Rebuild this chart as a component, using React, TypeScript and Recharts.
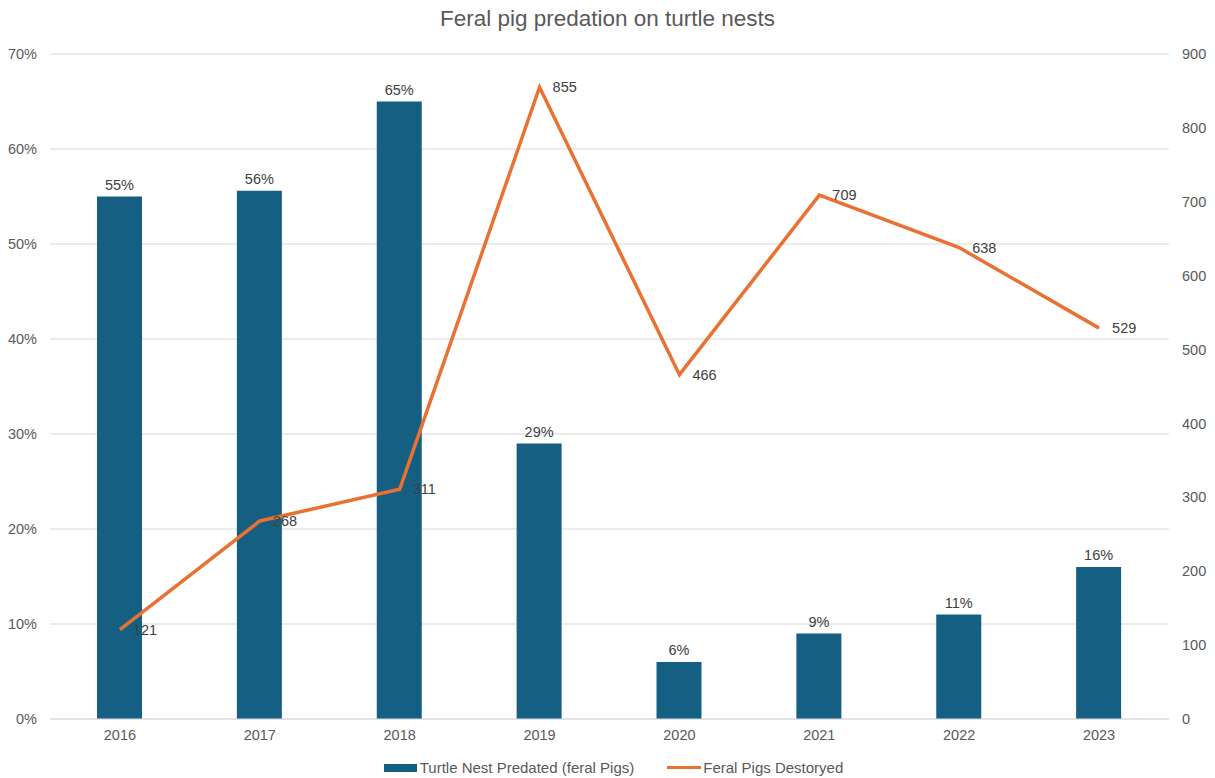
import React from "react";
import {
  Bar,
  CartesianGrid,
  ComposedChart,
  LabelList,
  Line,
  XAxis,
  YAxis,
} from "recharts";

const YEARS = ["2016", "2017", "2018", "2019", "2020", "2021", "2022", "2023"];
const NEST_PREDATED = [0.55, 0.556, 0.65, 0.29, 0.06, 0.09, 0.11, 0.16];
const PIGS_DESTROYED = [121, 268, 311, 855, 466, 709, 638, 529];
const LEFT_TICKS = [0, 0.1, 0.2, 0.3, 0.4, 0.5, 0.6, 0.7];
const RIGHT_TICKS = [0, 100, 200, 300, 400, 500, 600, 700, 800, 900];

const BAR_COLOR = "#156082";
const LINE_COLOR = "#E97132";
const FONT = "'Liberation Sans', Arial, sans-serif";
const TEXT = "#595959";
const FS = 14.5;

const data = YEARS.map((year, i) => ({
  year,
  nest: NEST_PREDATED[i],
  pigs: PIGS_DESTROYED[i],
}));

const pct = (v: number) => `${Math.round(v * 100)}%`;

export default function App() {
  return (
    <div
      style={{
        position: "absolute",
        left: 0,
        top: 0,
        width: 1215,
        height: 778,
        background: "#fff",
        fontFamily: FONT,
      }}
    >
      <div
        style={{
          position: "absolute",
          top: 6,
          width: "100%",
          textAlign: "center",
          fontSize: 22.5,
          color: TEXT,
        }}
      >
        Feral pig predation on turtle nests
      </div>
      <ComposedChart
        width={1215}
        height={778}
        data={data}
        margin={{ top: 54, right: 0, bottom: 29, left: 0 }}
        style={{ fontFamily: FONT }}
      >
        <CartesianGrid yAxisId="left" vertical={false} stroke="#d9d9d9" />
        <XAxis
          dataKey="year"
          height={30}
          tickLine={false}
          axisLine={{ stroke: "#d9d9d9" }}
          tick={{ fill: TEXT, fontSize: FS }}
          tickSize={6}
          tickMargin={5}
        />
        <YAxis
          yAxisId="left"
          width={50}
          domain={[0, 0.7]}
          ticks={LEFT_TICKS}
          tickFormatter={pct}
          axisLine={false}
          tickLine={false}
          tickSize={6}
          tickMargin={7}
          tick={{ fill: TEXT, fontSize: FS }}
        />
        <YAxis
          yAxisId="right"
          orientation="right"
          width={46}
          domain={[0, 900]}
          ticks={RIGHT_TICKS}
          axisLine={false}
          tickLine={false}
          tickSize={6}
          tickMargin={7}
          tick={{ fill: TEXT, fontSize: FS, textAnchor: "start" }}
        />
        <Bar
          yAxisId="left"
          dataKey="nest"
          fill={BAR_COLOR}
          barSize={45}
          isAnimationActive={false}
        >
          <LabelList
            dataKey="nest"
            position="top"
            offset={7}
            formatter={(v: any) => pct(Number(v))}
            style={{ fill: "#404040", fontSize: FS }}
          />
        </Bar>
        <Line
          yAxisId="right"
          dataKey="pigs"
          type="linear"
          stroke={LINE_COLOR}
          strokeWidth={3.5}
          dot={false}
          activeDot={false}
          isAnimationActive={false}
        >
          <LabelList
            dataKey="pigs"
            position="right"
            offset={13}
            style={{ fill: "#404040", fontSize: FS }}
          />
        </Line>
      </ComposedChart>
      <div
        style={{
          position: "absolute",
          top: 759,
          left: 0,
          width: "100%",
          display: "flex",
          justifyContent: "center",
          alignItems: "center",
          fontSize: 15,
          color: TEXT,
        }}
      >
        <span style={{ display: "flex", alignItems: "center", marginLeft: 12 }}>
          <span
            style={{ width: 33, height: 8, background: BAR_COLOR, marginRight: 3 }}
          />
          Turtle Nest Predated (feral Pigs)
        </span>
        <span style={{ display: "flex", alignItems: "center", marginLeft: 33 }}>
          <span
            style={{ width: 34, height: 3, background: LINE_COLOR, marginRight: 2 }}
          />
          Feral Pigs Destoryed
        </span>
      </div>
    </div>
  );
}
